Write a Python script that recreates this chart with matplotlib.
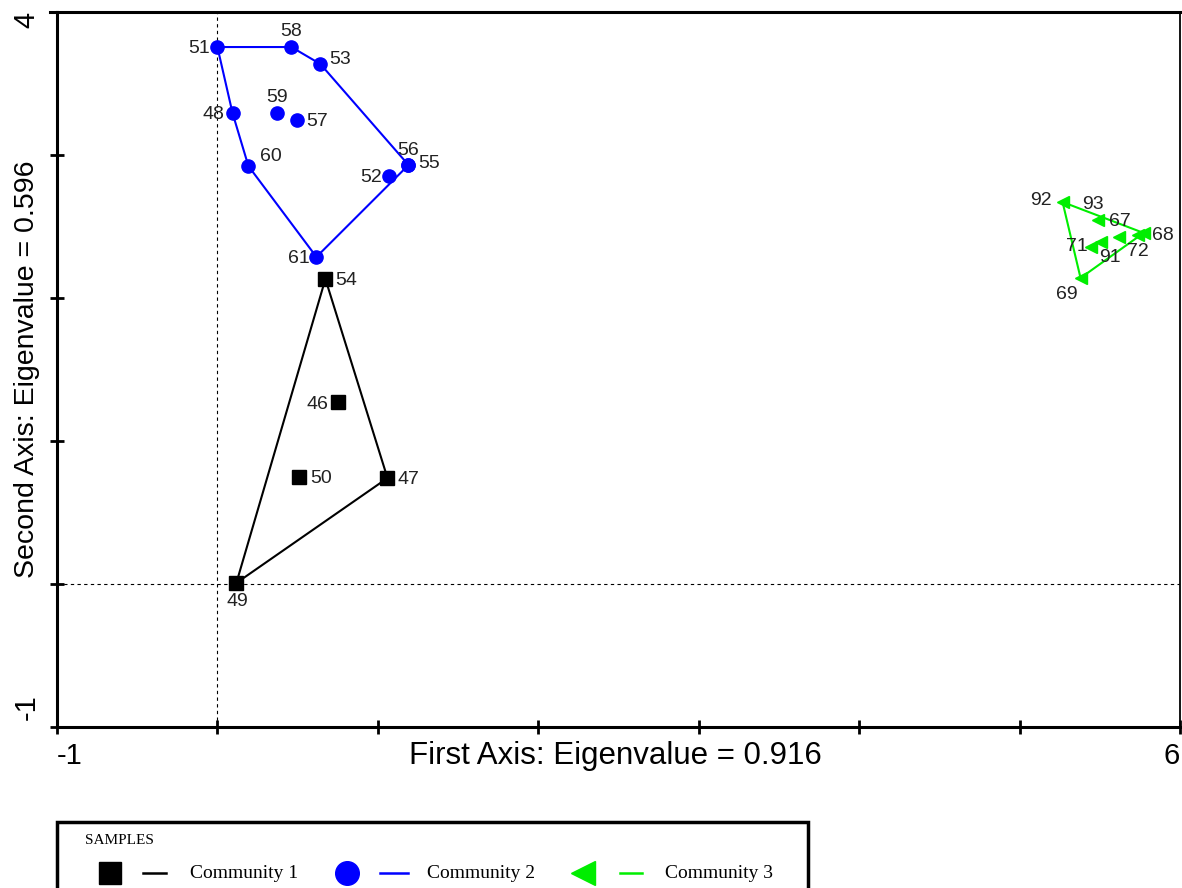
import matplotlib.pyplot as plt
from matplotlib.lines import Line2D
from matplotlib.patches import Rectangle

# sample scores on the first two ordination axes
c1_ids = ['54', '46', '50', '47', '49']
c1_x = [0.673, 0.754, 0.511, 1.060, 0.118]
c1_y = [2.133, 1.273, 0.748, 0.741, 0.007]
c1_hull = ['54', '47', '49']

c2_ids = ['51', '58', '53', '48', '59', '57', '60', '56', '55', '52', '61']
c2_x = [0.000, 0.461, 0.642, 0.094, 0.374, 0.499, 0.193, 1.191, 1.191, 1.072, 0.617]
c2_y = [3.755, 3.755, 3.636, 3.294, 3.294, 3.245, 2.923, 2.930, 2.930, 2.853, 2.287]
c2_hull = ['51', '58', '53', '55', '61', '60', '48']

c3_ids = ['92', '93', '67', '72', '68', '91', '71', '69']
c3_x = [5.268, 5.486, 5.617, 5.736, 5.773, 5.505, 5.443, 5.380]
c3_y = [2.671, 2.545, 2.427, 2.441, 2.455, 2.392, 2.357, 2.140]
c3_hull = ['92', '68', '69']

community_names = ['Community 1', 'Community 2', 'Community 3']

# label offsets in points (dx, dy, ha, va)
label_pos = {
    '51': (-5, -1, 'right', 'center'), '58': (0, 5, 'center', 'bottom'),
    '53': (6, 3, 'left', 'center'), '48': (-6, -1, 'right', 'center'),
    '59': (0, 5, 'center', 'bottom'), '57': (6, -1, 'left', 'center'),
    '60': (8, 7, 'left', 'center'), '56': (0, 4, 'center', 'bottom'),
    '55': (7, 1, 'left', 'center'), '52': (-5, -1, 'right', 'center'),
    '61': (-5, -1, 'right', 'center'), '54': (7, -1, 'left', 'center'),
    '46': (-7, -2, 'right', 'center'), '50': (8, -1, 'left', 'center'),
    '47': (7, -1, 'left', 'center'), '49': (1, -7, 'center', 'top'),
    '92': (-8, 1, 'right', 'center'), '93': (-3, 5, 'center', 'bottom'),
    '67': (1, 5, 'center', 'bottom'), '68': (6, -2, 'left', 'center'),
    '72': (0, -6, 'center', 'top'), '91': (7, -5, 'center', 'top'),
    '71': (-2, 0, 'right', 'center'), '69': (-10, -6, 'center', 'top'),
}

W, H = 1182, 888
fig = plt.figure(figsize=(W / 100, H / 100), dpi=100)
ax = fig.add_axes([57 / W, 1 - 727 / H, 1123 / W, 715 / H])

groups = [
    (c1_ids, c1_x, c1_y, c1_hull, 'black', 's', 10),
    (c2_ids, c2_x, c2_y, c2_hull, '#0000ff', 'o', 9.5),
    (c3_ids, c3_x, c3_y, c3_hull, '#00ee00', '<', 9),
]

for ids, xs, ys, hull, col, mk, ms in groups:
    pos = dict(zip(ids, zip(xs, ys)))
    hx = [pos[k][0] for k in hull] + [pos[hull[0]][0]]
    hy = [pos[k][1] for k in hull] + [pos[hull[0]][1]]
    ax.plot(hx, hy, color=col, lw=1.5, zorder=2)
    ax.plot(xs, ys, linestyle='none', marker=mk, color=col, markersize=ms, zorder=3)
    for k, x, y in zip(ids, xs, ys):
        dx, dy, ha, va = label_pos[k]
        ax.annotate(k, (x, y), xytext=(dx, dy), textcoords='offset points',
                    ha=ha, va=va, fontsize=14, family='Liberation Sans', color='#222222')

ax.axvline(0, color='black', lw=0.8, ls=(0, (3, 3)), zorder=1)
ax.axhline(0, color='black', lw=0.8, ls=(0, (3, 3)), zorder=1)

ax.set_xlim(-1, 6)
ax.set_ylim(-1, 4)
ax.set_xticks(range(-1, 7))
ax.set_yticks(range(-1, 5))
ax.set_xticklabels([])
ax.set_yticklabels([])
ax.tick_params(direction='inout', length=10, width=2, color='black')

for s in ['left', 'bottom', 'top']:
    ax.spines[s].set_linewidth(2.2)
ax.spines['right'].set_linewidth(1.3)
# top border runs a little past the left axis
fig.add_artist(Line2D([50 / W, 57 / W], [1 - 12 / H] * 2, color='black', lw=2.2))

tfont = dict(family='Liberation Sans', color='black')
ax.text(-1, -1.2, '-1', ha='left', va='center', fontsize=21, **tfont)
ax.text(6, -1.2, '6', ha='right', va='center', fontsize=21, **tfont)
ax.text(-1.19, 4, '4', ha='center', va='top', rotation=90, fontsize=21, **tfont)
ax.text(-1.19, -0.95, '-1', ha='center', va='bottom', rotation=90, fontsize=21, **tfont)
ax.text(2.48, -1.2, 'First Axis: Eigenvalue = 0.916', ha='center', va='center',
        fontsize=22.5, **tfont)
ax.text(-1.19, 1.5, 'Second Axis: Eigenvalue = 0.596', ha='center', va='center',
        rotation=90, fontsize=20.5, **tfont)

# legend box along the bottom of the figure
fig.add_artist(Rectangle((57 / W, -0.02), (808 - 57) / W, (0.02 + 1 - 822 / H),
                         fill=False, edgecolor='black', lw=2.5, transform=fig.transFigure))
sfont = dict(family='Liberation Serif', color='black', transform=fig.transFigure)
fig.text(85 / W, 1 - 840 / H, 'SAMPLES', ha='left', va='center', fontsize=11, **sfont)
leg_y = 1 - 873 / H
leg_items = [
    ('black', 's', 16, 110, 143, 166, 190),
    ('#0000ff', 'o', 17, 347, 380, 408, 427),
    ('#00ee00', '<', 17, 583, 620, 642, 665),
]
for name, (col, mk, ms, mx, l0, l1, tx) in zip(community_names, leg_items):
    fig.add_artist(Line2D([mx / W], [leg_y], marker=mk, color=col, markersize=ms, ls='none'))
    fig.add_artist(Line2D([l0 / W, l1 / W], [leg_y, leg_y], color=col, lw=1.8))
    fig.text(tx / W, leg_y, name, ha='left', va='center', fontsize=14, **sfont)

fig.savefig('out.png', dpi=100)
